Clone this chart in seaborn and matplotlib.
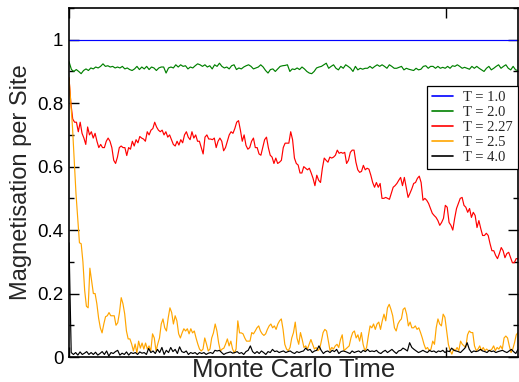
import numpy as np
import pandas as pd
import seaborn as sns
import matplotlib
matplotlib.use("Agg")
import matplotlib.pyplot as plt
from matplotlib.lines import Line2D
from matplotlib.ticker import FixedLocator, MultipleLocator

# Ising model: magnetisation per site versus Monte Carlo time at five temperatures
temperatures = ["T = 1.0", "T = 2.0", "T = 2.27", "T = 2.5", "T = 4.0"]
line_colors = ["#0000ff", "#008000", "#ff0000", "#ffa500", "#000000"]
total_sweeps = 5950

y_ticks = [0.0, 0.2, 0.4, 0.6, 0.8, 1.0]
y_tick_labels = ["0", "0.2", "0.4", "0.6", "0.8", "1"]
x_ticks = [0, 5000]

m_T10 = [1.0, 1.0, 1.0, 1.0, 1.0, 1.0, 1.0, 1.0, 1.0, 1.0, 1.0, 1.0]

m_T20 = [
    0.931, 0.906, 0.900, 0.906, 0.900, 0.893, 0.903, 0.908, 0.903, 0.911,
    0.908, 0.914, 0.911, 0.916, 0.924, 0.916, 0.918, 0.914, 0.916, 0.911,
    0.914, 0.911, 0.916, 0.908, 0.911, 0.906, 0.903, 0.908, 0.916, 0.906,
    0.914, 0.908, 0.916, 0.906, 0.914, 0.911, 0.903, 0.911, 0.914, 0.914,
    0.895, 0.911, 0.914, 0.911, 0.921, 0.914, 0.921, 0.916, 0.918, 0.908,
    0.914, 0.911, 0.918, 0.924, 0.921, 0.916, 0.921, 0.914, 0.918, 0.908,
    0.921, 0.916, 0.926, 0.916, 0.911, 0.914, 0.908, 0.918, 0.921, 0.906,
    0.911, 0.908, 0.914, 0.918, 0.921, 0.916, 0.908, 0.911, 0.914, 0.921,
    0.914, 0.903, 0.895, 0.906, 0.908, 0.900, 0.908, 0.916, 0.918, 0.919,
    0.921, 0.900, 0.908, 0.906, 0.911, 0.906, 0.914, 0.908, 0.900, 0.895,
    0.893, 0.900, 0.911, 0.914,
    0.916, 0.921, 0.926, 0.910, 0.916, 0.921, 0.910, 0.905, 0.916, 0.910,
    0.921, 0.916, 0.910, 0.900, 0.916, 0.905, 0.910, 0.907, 0.910, 0.910,
    0.916, 0.910, 0.916, 0.921, 0.916, 0.921, 0.916, 0.910, 0.921, 0.916,
    0.910, 0.910, 0.913, 0.916, 0.905, 0.910, 0.907, 0.905, 0.903, 0.910,
    0.905, 0.907, 0.916, 0.918, 0.910, 0.916, 0.916, 0.910, 0.916, 0.910,
    0.913, 0.910, 0.916, 0.910, 0.918, 0.916, 0.921, 0.916, 0.910, 0.913,
    0.910, 0.907, 0.916, 0.910, 0.916, 0.910, 0.905, 0.900, 0.910, 0.916,
    0.905, 0.910, 0.916, 0.921, 0.910, 0.916, 0.921, 0.910, 0.905, 0.916,
    0.905, 0.903,
]

m_T227 = [
    0.88, 0.80, 0.75, 0.74, 0.74, 0.71, 0.74, 0.705, 0.69, 0.67,
    0.725, 0.70, 0.71, 0.69, 0.705, 0.68, 0.66, 0.67, 0.66, 0.66,
    0.68, 0.69, 0.68, 0.66, 0.62, 0.61, 0.63, 0.66, 0.665, 0.66,
    0.66, 0.635, 0.66, 0.655, 0.68, 0.665, 0.685, 0.675, 0.695, 0.69,
    0.687, 0.68, 0.71, 0.70, 0.715, 0.72, 0.74, 0.725, 0.715, 0.71,
    0.715, 0.70, 0.71, 0.693, 0.70, 0.685, 0.67, 0.665, 0.68,
    0.668, 0.685, 0.675, 0.70, 0.71, 0.693, 0.685, 0.71, 0.69, 0.70,
    0.68, 0.68, 0.66, 0.64, 0.693, 0.70, 0.687, 0.687, 0.685, 0.69,
    0.66, 0.68, 0.69, 0.68, 0.65, 0.66, 0.68, 0.70, 0.71, 0.705,
    0.72, 0.74, 0.745, 0.715, 0.68, 0.70, 0.667, 0.655, 0.66, 0.68,
    0.69, 0.66, 0.66, 0.64, 0.636, 0.66, 0.685, 0.693, 0.66, 0.636,
    0.63, 0.61, 0.627, 0.61,
    0.614, 0.62, 0.66, 0.674, 0.674, 0.674, 0.71, 0.685, 0.627, 0.61,
    0.605, 0.58, 0.58, 0.60, 0.595, 0.59, 0.595, 0.58, 0.563, 0.54,
    0.573, 0.557, 0.55, 0.595, 0.627, 0.62, 0.614, 0.63, 0.627, 0.63,
    0.636, 0.652, 0.642, 0.645, 0.642, 0.645, 0.61, 0.62, 0.645, 0.652,
    0.652, 0.614, 0.59, 0.582, 0.585, 0.604, 0.59, 0.595, 0.592, 0.573,
    0.55, 0.535, 0.55, 0.535, 0.547, 0.50, 0.50, 0.503, 0.50, 0.497,
    0.516, 0.535, 0.54, 0.547,
    0.557, 0.566, 0.54, 0.566, 0.535, 0.503, 0.516, 0.53, 0.547, 0.55,
    0.563, 0.57, 0.55, 0.494, 0.50, 0.494, 0.484, 0.468, 0.453, 0.446,
    0.44, 0.43, 0.415, 0.424, 0.437, 0.478, 0.472, 0.424, 0.415, 0.40,
    0.437, 0.468, 0.484, 0.50, 0.503, 0.478, 0.472, 0.456, 0.468, 0.44,
    0.456, 0.446, 0.408, 0.43, 0.405, 0.383, 0.383, 0.39, 0.383, 0.357,
    0.335, 0.335, 0.32, 0.31, 0.326, 0.345, 0.335, 0.313, 0.326, 0.33,
    0.313, 0.297, 0.297, 0.31, 0.31,
]

m_T25 = [
    0.88, 0.80, 0.725, 0.62, 0.516, 0.44, 0.36, 0.357, 0.30, 0.21,
    0.16, 0.155, 0.28, 0.24, 0.20, 0.20, 0.168, 0.123, 0.092, 0.076,
    0.104, 0.127, 0.13, 0.14, 0.13, 0.13, 0.13, 0.10, 0.108, 0.14,
    0.187, 0.168, 0.136, 0.082, 0.057, 0.057, 0.041, 0.019, 0.041, 0.013,
    0.05, 0.028, 0.044, 0.025, 0.044, 0.025, 0.035, 0.019, 0.073, 0.06,
    0.019, 0.041, 0.06, 0.104, 0.12, 0.092, 0.082, 0.123, 0.155, 0.14,
    0.104, 0.13, 0.114, 0.073, 0.06, 0.076, 0.089, 0.082, 0.089, 0.073,
    0.089, 0.076, 0.082, 0.06, 0.041, 0.025, 0.019, 0.025, 0.06, 0.041,
    0.019, 0.025, 0.06, 0.076, 0.104, 0.082, 0.044, 0.019, 0.025, 0.028,
    0.041, 0.057, 0.035, 0.05, 0.025, 0.013, 0.025, 0.114, 0.076, 0.076,
    0.073, 0.06, 0.05,
    0.05, 0.05, 0.077, 0.073, 0.082, 0.092, 0.098, 0.082, 0.073, 0.068,
    0.073, 0.087, 0.098, 0.104, 0.092, 0.098, 0.087, 0.104, 0.114, 0.12,
    0.087, 0.04, 0.025, 0.02, 0.03, 0.06, 0.077, 0.11, 0.06, 0.04,
    0.077, 0.055, 0.03, 0.035, 0.025, 0.04, 0.055, 0.04, 0.025, 0.03,
    0.02, 0.025, 0.05, 0.077, 0.087, 0.082, 0.05, 0.02, 0.03, 0.025,
    0.035, 0.04, 0.03, 0.055, 0.07, 0.02, 0.025, 0.03, 0.035, 0.06,
    0.077, 0.082, 0.06, 0.07, 0.05, 0.077, 0.04, 0.02, 0.03, 0.066,
    0.098, 0.092, 0.104, 0.087, 0.104, 0.11, 0.087, 0.114, 0.135, 0.114,
    0.155, 0.166, 0.15, 0.13, 0.092, 0.082, 0.104, 0.114, 0.12, 0.15,
    0.155, 0.135, 0.098, 0.11, 0.092, 0.092, 0.098, 0.087, 0.092, 0.077,
    0.06, 0.04, 0.025, 0.03, 0.02, 0.025, 0.05, 0.04, 0.092, 0.12,
    0.104, 0.098, 0.135, 0.125, 0.082, 0.04, 0.02, 0.009, 0.025, 0.02,
    0.03, 0.02, 0.05, 0.04, 0.035, 0.03, 0.07, 0.082, 0.077, 0.077,
    0.035, 0.02, 0.025, 0.035, 0.02, 0.03, 0.02, 0.025, 0.02, 0.02,
    0.025, 0.035, 0.02, 0.03, 0.025, 0.035, 0.025, 0.06, 0.066, 0.06,
    0.035, 0.014, 0.025, 0.045, 0.07, 0.077,
]

m_T40 = [
    0.36,
    0.014, 0.008, 0.014, 0.006, 0.016, 0.008, 0.012, 0.017, 0.008, 0.014,
    0.008, 0.015, 0.006, 0.011, 0.017, 0.008, 0.019, 0.003, 0.014, 0.011,
    0.017, 0.021, 0.006, 0.012, 0.008, 0.016, 0.006, 0.014, 0.011, 0.014,
    0.008, 0.016, 0.012, 0.014, 0.008, 0.027, 0.014, 0.019, 0.011, 0.024,
    0.014, 0.030, 0.008, 0.021, 0.014, 0.030, 0.017, 0.024, 0.011, 0.032,
    0.017, 0.014, 0.019, 0.008, 0.014, 0.011, 0.014, 0.008, 0.014, 0.011,
    0.014, 0.008, 0.012, 0.014, 0.011, 0.021, 0.019, 0.021, 0.014, 0.008,
    0.012, 0.014, 0.016, 0.012, 0.014,
    0.017, 0.011, 0.014, 0.008, 0.017, 0.021, 0.035, 0.017, 0.011, 0.017,
    0.011, 0.019, 0.014, 0.008, 0.017, 0.014, 0.024, 0.017, 0.019, 0.014,
    0.017, 0.019, 0.014, 0.017, 0.019, 0.014, 0.011, 0.017, 0.014, 0.017,
    0.019, 0.028, 0.021, 0.024, 0.014, 0.019, 0.021, 0.035, 0.021, 0.011,
    0.017, 0.019, 0.014, 0.021, 0.017, 0.024, 0.011, 0.017, 0.019, 0.017,
    0.014, 0.011, 0.019, 0.014, 0.017, 0.019, 0.014, 0.021, 0.017, 0.024,
    0.017, 0.019,
    0.017, 0.021, 0.014, 0.011, 0.017, 0.021, 0.014, 0.019, 0.024, 0.017,
    0.011, 0.019, 0.021, 0.028, 0.024, 0.019, 0.045, 0.030, 0.024, 0.019,
    0.014, 0.017, 0.021, 0.017, 0.014, 0.021, 0.017, 0.019, 0.014, 0.019,
    0.017, 0.021, 0.014, 0.019, 0.017, 0.028, 0.021, 0.019, 0.017, 0.014,
    0.021, 0.028, 0.045, 0.024, 0.014, 0.019, 0.017, 0.019, 0.024, 0.019,
    0.017, 0.014, 0.021, 0.017, 0.019, 0.014, 0.017, 0.019, 0.021, 0.017,
    0.014, 0.019, 0.024, 0.017, 0.011, 0.024,
]

series = [m_T10, m_T20, m_T227, m_T25, m_T40]

# long-form table; each run is sampled at evenly spaced sweeps over the whole simulation
frames = []
for label, values in zip(temperatures, series):
    sweeps = np.linspace(0, total_sweeps, len(values))
    frames.append(pd.DataFrame({"sweep": sweeps, "m": values, "T": label}))
df = pd.concat(frames, ignore_index=True)

sns.set_style("ticks")
plt.rcParams["font.family"] = ["Liberation Sans", "DejaVu Sans"]

fig = plt.figure(figsize=(5.19, 3.82), dpi=100)
ax = fig.add_axes([69 / 519, 25 / 382, 449 / 519, 349 / 382])

sns.lineplot(
    data=df, x="sweep", y="m", hue="T", hue_order=temperatures,
    palette=dict(zip(temperatures, line_colors)),
    estimator=None, sort=False, linewidth=0.85, legend=False, ax=ax,
)

ax.set_xlim(0, total_sweeps)
ax.set_ylim(0, 1.1)
ax.yaxis.set_major_locator(FixedLocator(y_ticks))
ax.set_yticklabels(y_tick_labels)
ax.yaxis.set_minor_locator(MultipleLocator(0.1))
ax.xaxis.set_major_locator(FixedLocator(x_ticks))

ax.tick_params(axis="both", which="both", direction="in", top=True, right=True,
               labelbottom=False, colors="black")
ax.tick_params(axis="both", which="major", length=7.5, width=1.0,
               labelsize=13.5, pad=4)
ax.tick_params(axis="both", which="minor", length=3.8, width=1.0)

for side in ["left", "right", "top", "bottom"]:
    ax.spines[side].set_visible(True)
    ax.spines[side].set_color("black")
    ax.spines[side].set_linewidth(1.2)

ax.set_xlabel("Monte Carlo Time", fontsize=18.5, labelpad=1)
ax.set_ylabel("Magnetisation per Site", fontsize=17, labelpad=4)

handles = [Line2D([], [], color=c, linewidth=1.2) for c in line_colors]
leg = ax.legend(
    handles, temperatures, loc="upper left", bbox_to_anchor=(0.797, 0.776),
    borderaxespad=0, frameon=True, fancybox=False, framealpha=1,
    edgecolor="black", prop={"family": "Liberation Serif", "size": 10.5},
    handlelength=1.45, handletextpad=0.7, labelspacing=0.12, borderpad=0.35,
)
leg.get_frame().set_linewidth(0.9)

fig.savefig("out.png", dpi=100)
